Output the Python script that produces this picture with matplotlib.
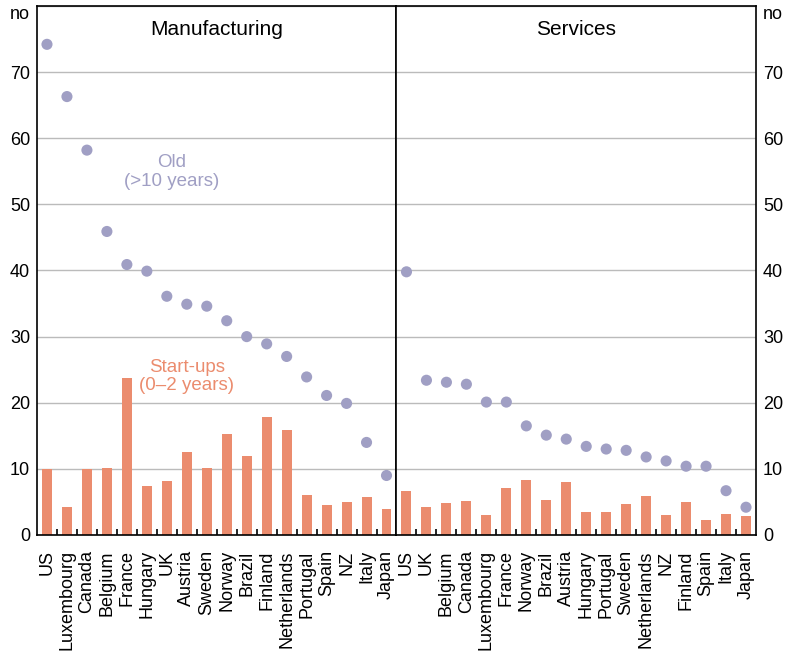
import matplotlib.pyplot as plt
import numpy as np

plt.rcParams['font.family'] = ['Liberation Sans', 'DejaVu Sans']

manu_countries = ['US', 'Luxembourg', 'Canada', 'Belgium', 'France', 'Hungary', 'UK',
                  'Austria', 'Sweden', 'Norway', 'Brazil', 'Finland', 'Netherlands',
                  'Portugal', 'Spain', 'NZ', 'Italy', 'Japan']
manu_old = [74.2, 66.3, 58.2, 45.9, 40.9, 39.9, 36.1, 34.9, 34.6, 32.4, 30.0, 28.9,
            27.0, 23.9, 21.1, 19.9, 14.0, 9.0]
manu_start = [10.0, 4.2, 10.0, 10.1, 23.8, 7.4, 8.2, 12.6, 10.1, 15.2, 11.9, 17.9,
              15.9, 6.1, 4.6, 5.0, 5.8, 4.0]

serv_countries = ['US', 'UK', 'Belgium', 'Canada', 'Luxembourg', 'France', 'Norway',
                  'Brazil', 'Austria', 'Hungary', 'Portugal', 'Sweden', 'Netherlands',
                  'NZ', 'Finland', 'Spain', 'Italy', 'Japan']
serv_old = [39.8, 23.4, 23.1, 22.8, 20.1, 20.1, 16.5, 15.1, 14.5, 13.4, 13.0, 12.8,
            11.8, 11.2, 10.4, 10.4, 6.7, 4.2]
serv_start = [6.7, 4.2, 4.8, 5.1, 3.0, 7.1, 8.3, 5.3, 8.0, 3.5, 3.5, 4.7, 5.9, 3.0,
              5.0, 2.3, 3.2, 2.9]

yticks = [0, 10, 20, 30, 40, 50, 60, 70, 80]
ylabels = ['0', '10', '20', '30', '40', '50', '60', '70', 'no']

bar_col = '#EB8C6E'
dot_col = '#A09FC4'

fig, axes = plt.subplots(1, 2, figsize=(7.87, 6.57), dpi=100)
fig.subplots_adjust(left=0.047, right=0.9606, bottom=0.1857, top=0.9909, wspace=0)

panels = [(axes[0], 'Manufacturing', manu_countries, manu_old, manu_start),
          (axes[1], 'Services', serv_countries, serv_old, serv_start)]

for ax, title, names, old, start in panels:
    x = np.arange(len(names))
    ax.set_axisbelow(True)
    ax.bar(x, start, width=0.5, color=bar_col, zorder=2)
    ax.scatter(x, old, s=64, color=dot_col, edgecolors='none', zorder=3)
    ax.set_xlim(-0.5, len(names) - 0.5)
    ax.set_ylim(0, 80)
    ax.set_yticks(yticks)
    ax.set_yticklabels(ylabels, fontsize=13)
    ax.tick_params(axis='y', length=0, pad=5)
    ax.grid(axis='y', color='#BBBBBB', linewidth=1)
    ax.set_xticks(x)
    ax.set_xticklabels(names, rotation=90, fontsize=13)
    ax.tick_params(axis='x', which='major', length=0, pad=11)
    ax.set_xticks(x[:-1] + 0.5, minor=True)
    ax.tick_params(axis='x', which='minor', direction='in', length=4, width=1.2,
                   color='black')
    for s in ax.spines.values():
        s.set_color('black')
        s.set_linewidth(1.2)
    ax.text(0.5, 0.973, title, transform=ax.transAxes, ha='center', va='top', fontsize=15)

axes[1].yaxis.tick_right()
axes[1].tick_params(axis='y', length=0, pad=5)

# unit label sits just under the top edge
for ax in axes:
    ax.get_yticklabels()[-1].set_verticalalignment('top')

axes[0].text(6.25, 54.9, 'Old\n(>10 years)', color=dot_col, ha='center', va='center',
             fontsize=13.5, linespacing=1.1)
axes[0].text(7.0, 24.0, 'Start-ups\n(0\u20132 years)', color=bar_col, ha='center',
             va='center', fontsize=13.5, linespacing=1.1)

fig.savefig('out.png', dpi=100)
